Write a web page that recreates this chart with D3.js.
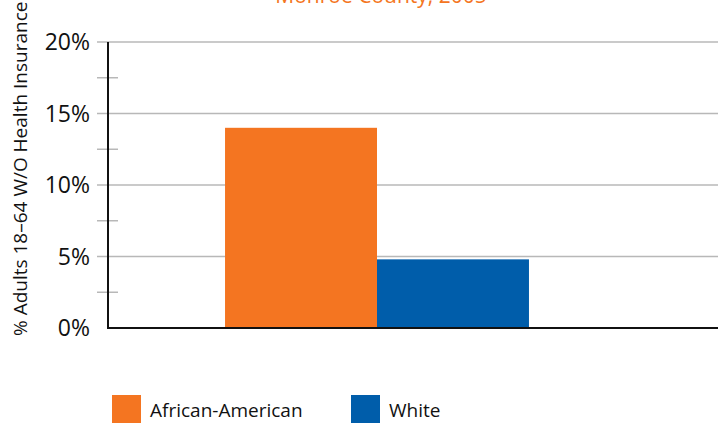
<!DOCTYPE html>
<html><head><meta charset="utf-8">
<script src="https://cdn.jsdelivr.net/npm/d3@7"></script>
<style>body{margin:0;background:#fff;} svg{display:block;}</style>
</head><body>
<svg id="c" width="718" height="423"></svg>
<script>
const title = "Monroe County, 2005";
const yTitle = "% Adults 18\u201364 W/O Health Insurance";
const groups = ["2005"];
const categories = ["African-American", "White"];
const values = [14.0, 4.8];
const colors = ["#F47521", "#005DAA"];
const majorTicks = [0, 5, 10, 15, 20];
const minorTicks = [2.5, 7.5, 12.5, 17.5];

(function () {
const svg = d3.select("#c");
const W = 718;
const plotLeft = 108, plotTop = 42, plotBottom = 328;
const font = "'Open Sans', sans-serif";

const y = d3.scaleLinear().domain([0, 20]).range([plotBottom, plotTop]);
const x0 = d3.scaleBand().domain(groups).range([plotLeft, 646]).paddingInner(0.278).paddingOuter(0.278);
const x1 = d3.scaleBand().domain(categories).range([0, x0.bandwidth()]);

svg.append("g").selectAll("line").data(majorTicks.filter(d => d > 0)).join("line")
  .attr("x1", 97).attr("x2", W).attr("y1", d => y(d)).attr("y2", d => y(d))
  .attr("stroke", "#b8b8b8").attr("stroke-width", 1.5);
svg.append("g").selectAll("line").data(minorTicks).join("line")
  .attr("x1", 97).attr("x2", 118).attr("y1", d => y(d)).attr("y2", d => y(d))
  .attr("stroke", "#b8b8b8").attr("stroke-width", 1.5);

svg.append("g").selectAll("rect").data(categories).join("rect")
  .attr("x", d => x0(groups[0]) + x1(d))
  .attr("width", x1.bandwidth())
  .attr("y", (d, i) => y(values[i]))
  .attr("height", (d, i) => y(0) - y(values[i]))
  .attr("fill", (d, i) => colors[i]);

svg.append("line").attr("x1", plotLeft).attr("x2", plotLeft).attr("y1", plotTop).attr("y2", plotBottom + 1)
  .attr("stroke", "#111").attr("stroke-width", 2);
svg.append("line").attr("x1", plotLeft - 1).attr("x2", W).attr("y1", plotBottom).attr("y2", plotBottom)
  .attr("stroke", "#111").attr("stroke-width", 2);

svg.append("g").selectAll("text").data(majorTicks).join("text")
  .attr("x", 90).attr("y", d => y(d)).attr("dy", "0.36em")
  .attr("text-anchor", "end").attr("font-family", font).attr("font-size", 23)
  .attr("fill", "#111").text(d => d + "%");

svg.append("text").attr("transform", "translate(27,336) rotate(-90)")
  .attr("text-anchor", "start").attr("font-family", font).attr("font-size", 19)
  .attr("fill", "#111").text(yTitle);

svg.append("text").attr("x", 381).attr("y", 3).attr("text-anchor", "middle")
  .attr("font-family", font).attr("font-size", 21).attr("fill", "#F47521").text(title);

const legX = [112, 351];
categories.forEach((c, i) => {
  svg.append("rect").attr("x", legX[i]).attr("y", 395).attr("width", 29).attr("height", 28).attr("fill", colors[i]);
  svg.append("text").attr("x", legX[i] + 38).attr("y", 417).attr("font-family", font)
    .attr("font-size", 19).attr("fill", "#111").text(c);
});
})();
</script>
</body></html>
